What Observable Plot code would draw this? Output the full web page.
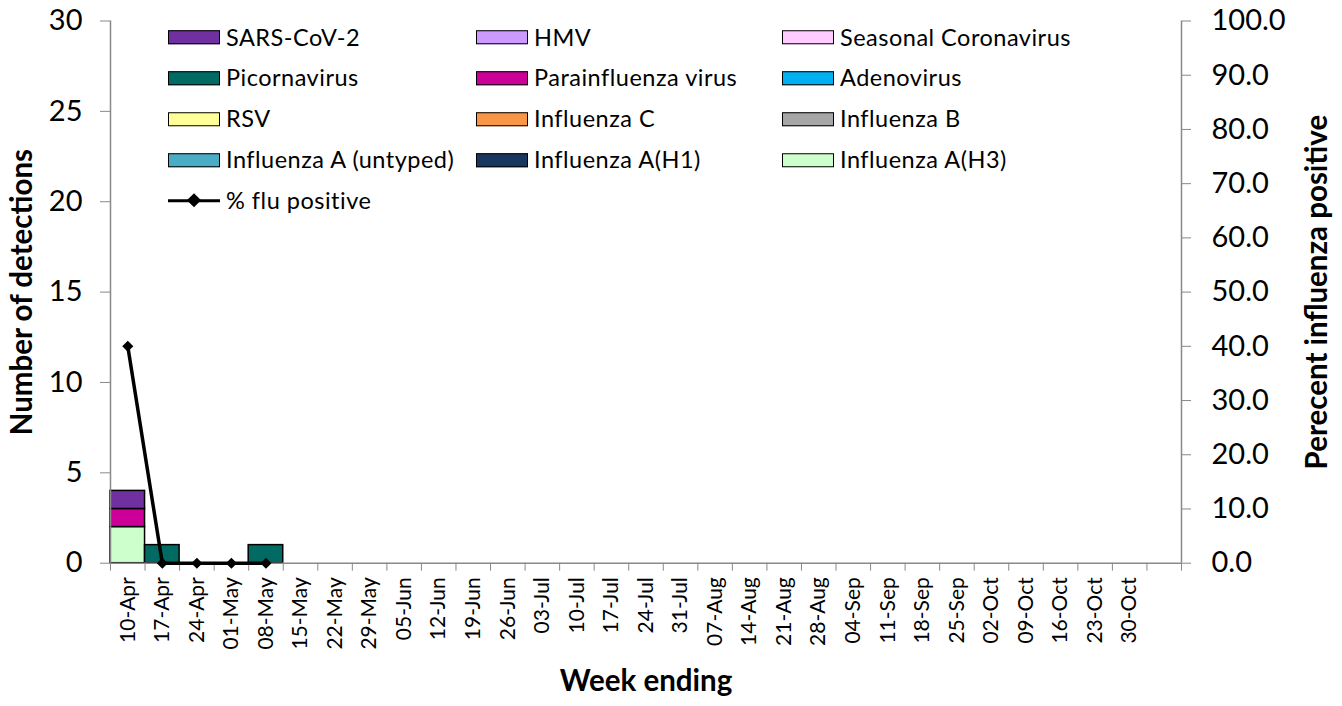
<!DOCTYPE html>
<html><head><meta charset="utf-8">
<script src="https://cdn.jsdelivr.net/npm/d3@7"></script>
<script src="https://cdn.jsdelivr.net/npm/@observablehq/plot@0.6"></script>
<style>
body{margin:0;background:#fff;font-family:Lato,sans-serif;}
#wrap{position:relative;width:1342px;height:706px;overflow:hidden;}
.leg{position:absolute;display:flex;align-items:center;font-size:23.5px;letter-spacing:0.5px;color:#000;white-space:nowrap;line-height:1;transform:translateY(-50%);}
.sw{box-sizing:border-box;width:52px;height:14px;border:1.5px solid #000;margin-right:6px;}
.ln{position:relative;width:52px;height:14px;margin-right:6px;}
.ln:before{content:"";position:absolute;left:0;right:0;top:5.5px;height:3.5px;background:#000;}
.ln:after{content:"";position:absolute;left:21px;top:2px;width:10px;height:10px;background:#000;transform:rotate(45deg);}
</style></head><body><div id="wrap"></div>
<script>
// Category labels (week ending); the last band is blank in the reference
const weeks = ["10-Apr","17-Apr","24-Apr","01-May","08-May","15-May","22-May","29-May","05-Jun","12-Jun",
  "19-Jun","26-Jun","03-Jul","10-Jul","17-Jul","24-Jul","31-Jul","07-Aug","14-Aug","21-Aug",
  "28-Aug","04-Sep","11-Sep","18-Sep","25-Sep","02-Oct","09-Oct","16-Oct","23-Oct","30-Oct",""];

// Detections for the reported weeks (10-Apr .. 08-May)
const influenzaAH3       = [2,0,0,0,0];
const influenzaAH1       = [0,0,0,0,0];
const influenzaAUntyped  = [0,0,0,0,0];
const influenzaB         = [0,0,0,0,0];
const influenzaC         = [0,0,0,0,0];
const rsv                = [0,0,0,0,0];
const adenovirus         = [0,0,0,0,0];
const parainfluenza      = [1,0,0,0,0];
const picornavirus       = [0,1,0,0,1];
const seasonalCorona     = [0,0,0,0,0];
const hmv                = [0,0,0,0,0];
const sarsCoV2           = [1,0,0,0,0];
// % flu positive for the reported weeks
const fluPositive        = [40,0,0,0,0];

// series, bottom of stack to top
const seriesNames = ["Influenza A(H3)","Influenza A(H1)","Influenza A (untyped)","Influenza B","Influenza C","RSV",
  "Adenovirus","Parainfluenza virus","Picornavirus","Seasonal Coronavirus","HMV","SARS-CoV-2"];
const seriesValues = [influenzaAH3,influenzaAH1,influenzaAUntyped,influenzaB,influenzaC,rsv,
  adenovirus,parainfluenza,picornavirus,seasonalCorona,hmv,sarsCoV2];
const seriesColors = ["#CCFFCC","#17375E","#4BACC6","#A6A6A6","#F79646","#FFFF99",
  "#00B0F0","#CC0099","#006A63","#FFCCFF","#CC99FF","#7030A0"];

// Build stacked records
const bars = [];
const nRep = fluPositive.length;
for (let i = 0; i < nRep; i++) {
  let acc = 0;
  seriesNames.forEach((s, k) => {
    const v = seriesValues[k][i];
    if (v > 0) { bars.push({i, week: weeks[i], series: s, y1: acc, y2: acc + v}); acc += v; }
  });
}
const flu = fluPositive.map((p, i) => ({i, week: weeks[i], pct: p}));

const AX = "#898989";
const chart = Plot.plot({
  width: 1342, height: 706,
  marginLeft: 110, marginRight: 161, marginTop: 20.5, marginBottom: 143.3,
  style: {fontFamily: "Lato, sans-serif", color: "#000", background: "#fff", overflow: "visible"},
  x: {domain: [0, weeks.length], axis: null},
  y: {domain: [0, 30], axis: null},
  color: {domain: seriesNames, range: seriesColors},
  marks: [
    Plot.rect(bars, {x1: "i", x2: d => d.i + 1, y1: "y1", y2: "y2", fill: "series", stroke: "#000", strokeWidth: 1.5}),
    Plot.ruleY([0], {stroke: AX, strokeWidth: 1.5}),
    Plot.ruleX([0, weeks.length], {stroke: AX, strokeWidth: 1.5}),
    Plot.axisY({anchor: "left", ticks: d3.range(0, 31, 5), tickSize: 10, tickPadding: 18, stroke: AX, fontSize: 29, label: null}),
    Plot.axisY({anchor: "right", ticks: d3.range(0, 31, 3), tickSize: 9, tickPadding: 21, stroke: AX, fontSize: 29, label: null,
      tickFormat: d => (d * 100 / 30).toFixed(1)}),
    Plot.axisX({ticks: d3.range(0, weeks.length + 1), tickSize: 8, tickFormat: () => "", stroke: AX, label: null}),
    Plot.axisX({ticks: d3.range(0, weeks.length).map(i => i + 0.5), tickSize: 0, tickPadding: 14, tickRotate: -90,
      fontSize: 21, label: null, tickFormat: d => weeks[Math.floor(d)]}),
    Plot.line(flu, {x: d => d.i + 0.5, y: d => d.pct * 30 / 100, stroke: "#000", strokeWidth: 3.5}),
    Plot.dot(flu, {x: d => d.i + 0.5, y: d => d.pct * 30 / 100, symbol: "diamond2", r: 5, fill: "#000", stroke: "none"}),
    Plot.text(["Number of detections"], {frameAnchor: "left", textAnchor: "middle", dx: -88, rotate: -90, fontSize: 29.5, fontWeight: "bold"}),
    Plot.text(["Perecent influenza positive"], {frameAnchor: "right", textAnchor: "middle", dx: 136, rotate: -90, fontSize: 29.5, fontWeight: "bold"}),
    Plot.text(["Week ending"], {frameAnchor: "bottom", dy: 128, fontSize: 29.5, fontWeight: "bold"})
  ]
});
const wrap = document.getElementById("wrap");
wrap.appendChild(chart);

// Legend (overlaid inside plot area, Excel-style)
const legendOrder = seriesNames.map((s, k) => ({name: s, color: seriesColors[k]})).reverse();
const colX = [168, 476, 782];
const rowY = r => 37.7 + r * 40.7;
legendOrder.forEach((d, j) => {
  const el = document.createElement("div");
  el.className = "leg";
  el.style.left = colX[j % 3] + "px";
  el.style.top = rowY(Math.floor(j / 3)) + "px";
  el.innerHTML = `<span class="sw" style="background:${d.color}"></span><span>${d.name}</span>`;
  wrap.appendChild(el);
});
const fl = document.createElement("div");
fl.className = "leg";
fl.style.left = colX[0] + "px";
fl.style.top = rowY(4) + "px";
fl.innerHTML = `<span class="ln"></span><span>% flu positive</span>`;
wrap.appendChild(fl);
</script></body></html>
